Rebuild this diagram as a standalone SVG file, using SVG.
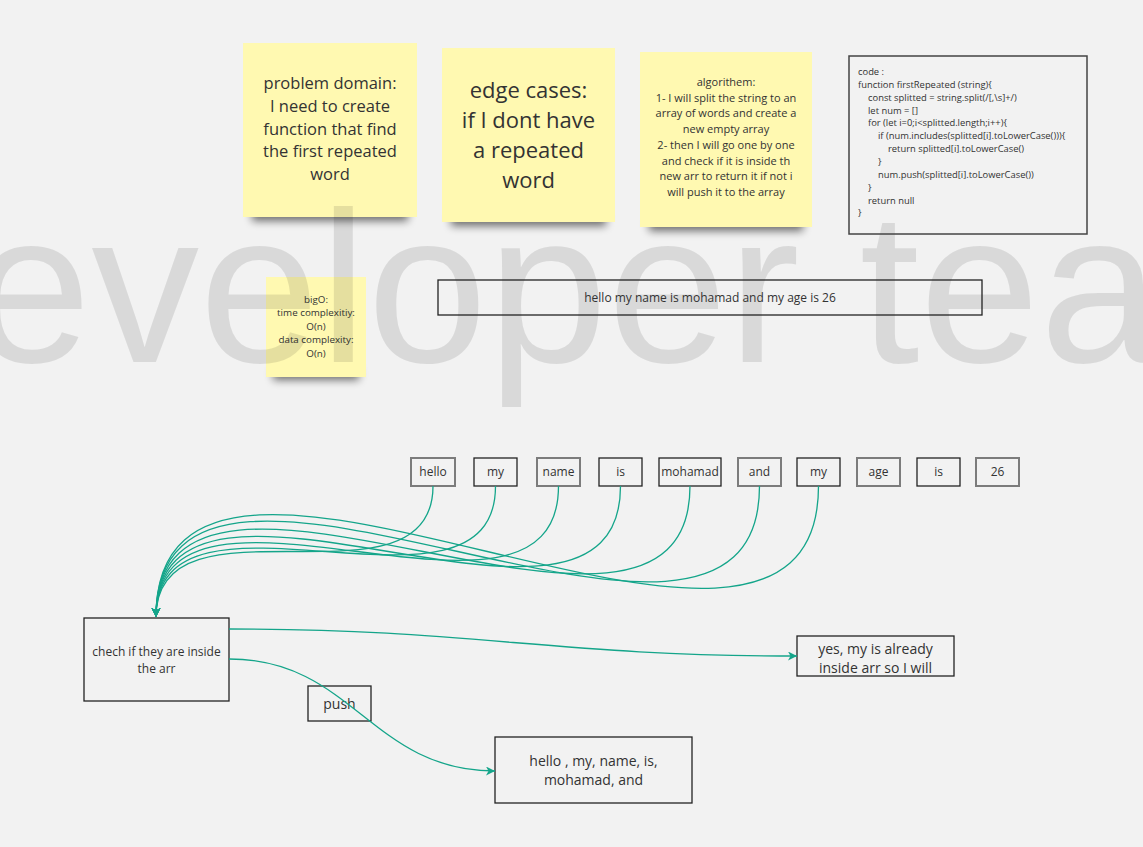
<svg xmlns="http://www.w3.org/2000/svg" width="1143" height="847" viewBox="0 0 1143 847">
<style>
text{font-family:"Open Sans","Noto Sans","Liberation Sans",sans-serif;fill:#333;text-anchor:middle}
.note{fill:#fff9b1}
.shadow{fill:#000;opacity:.55}
.box{fill:none;stroke:#222;stroke-width:1.3}
.gbox{fill:none;stroke:#7c7c7c;stroke-width:2}
.code{text-anchor:start;font-size:9.4px}
.conn{fill:none;stroke:#14a58a;stroke-width:1.3}
.wm{font-family:"Liberation Sans",Arial,sans-serif;font-size:216px;fill:#000;fill-opacity:.1;text-anchor:start}
.w{font-size:12px}
.m{font-size:14px}
</style>
<defs>
<filter id="blur" x="-20%" y="-100%" width="140%" height="300%"><feGaussianBlur stdDeviation="4"/></filter>
<marker id="arr" markerUnits="userSpaceOnUse" markerWidth="10" markerHeight="10" refX="9" refY="4.5" orient="auto"><path d="M0,0 L9,4.5 L0,9 L2.5,4.5 z" fill="#14a58a"/></marker>
</defs>
<rect width="1143" height="847" fill="#f2f2f2"/>

<g id="note-problem">
<rect class="shadow" x="252" y="207" width="156" height="14" filter="url(#blur)"/>
<rect class="note" x="243" y="43" width="174" height="174"/>
<text font-size="16.5"><tspan x="330" y="89">problem domain:</tspan><tspan x="330" y="111.8">I need to create</tspan><tspan x="330" y="134.6">function that find</tspan><tspan x="330" y="157.4">the first repeated</tspan><tspan x="330" y="180.2">word</tspan></text>
</g>
<g id="note-edge">
<rect class="shadow" x="451" y="212" width="155" height="14" filter="url(#blur)"/>
<rect class="note" x="442" y="48" width="173" height="174"/>
<text font-size="22"><tspan x="528.5" y="98">edge cases:</tspan><tspan x="528.5" y="128">if I dont have</tspan><tspan x="528.5" y="158">a repeated</tspan><tspan x="528.5" y="188">word</tspan></text>
</g>
<g id="note-algo">
<rect class="shadow" x="649" y="217" width="154" height="14" filter="url(#blur)"/>
<rect class="note" x="640" y="52" width="172" height="175"/>
<text font-size="11"><tspan x="726" y="86">algorithem:</tspan><tspan x="726" y="101.7">1- I will split the string to an</tspan><tspan x="726" y="117.4">array of words and create a</tspan><tspan x="726" y="133.1">new empty array</tspan><tspan x="726" y="148.8">2- then I will go one by one</tspan><tspan x="726" y="164.5">and check if it is inside th</tspan><tspan x="726" y="180.2">new arr to return it if not i</tspan><tspan x="726" y="195.9">will push it to the array</tspan></text>
</g>
<g id="note-bigo">
<rect class="shadow" x="273" y="368" width="86" height="12" filter="url(#blur)"/>
<rect class="note" x="266" y="277" width="100" height="100"/>
<text font-size="9.8"><tspan x="316" y="302.5">bigO:</tspan><tspan x="316" y="316">time complexitiy:</tspan><tspan x="316" y="329.5">O(n)</tspan><tspan x="316" y="343">data complexity:</tspan><tspan x="316" y="356.5">O(n)</tspan></text>
</g>

<g id="watermark"><text class="wm" x="-29" y="362">eveloper tea</text></g>

<g id="code">
<rect x="849" y="56" width="238" height="178" fill="none" stroke="#444" stroke-width="1.5"/>
<text class="code" x="858" y="75">code :</text>
<text class="code" x="858" y="87.9">function firstRepeated (string){</text>
<text class="code" x="868" y="100.7">const splitted = string.split(/[,\s]+/)</text>
<text class="code" x="868" y="113.6">let num = []</text>
<text class="code" x="868" y="126.4">for (let i=0;i&lt;splitted.length;i++){</text>
<text class="code" x="878" y="139.3">if (num.includes(splitted[i].toLowerCase())){</text>
<text class="code" x="888" y="152.1">return splitted[i].toLowerCase()</text>
<text class="code" x="878" y="165">}</text>
<text class="code" x="878" y="177.8">num.push(splitted[i].toLowerCase())</text>
<text class="code" x="868" y="190.7">}</text>
<text class="code" x="868" y="203.5">return null</text>
<text class="code" x="858" y="216.4">}</text>
</g>

<g id="sentence"><rect class="box" x="438" y="280" width="544" height="35"/><text font-size="12" x="710" y="302">hello my name is mohamad and my age is 26</text></g>

<g id="w-hello"><rect class="gbox" x="411" y="458" width="44" height="28"/><text class="w" x="433" y="476">hello</text></g>
<g id="w-my1"><rect class="box" x="474" y="458" width="43" height="28"/><text class="w" x="495.5" y="476">my</text></g>
<g id="w-name"><rect class="gbox" x="537" y="458" width="43" height="28"/><text class="w" x="558.5" y="476">name</text></g>
<g id="w-is1"><rect class="box" x="599" y="458" width="43" height="28"/><text class="w" x="620.5" y="476">is</text></g>
<g id="w-mohamad"><rect class="box" x="659" y="458" width="62" height="28"/><text class="w" x="690" y="476">mohamad</text></g>
<g id="w-and"><rect class="gbox" x="738" y="458" width="43" height="28"/><text class="w" x="759.5" y="476">and</text></g>
<g id="w-my2"><rect class="box" x="797" y="458" width="43" height="28"/><text class="w" x="818.5" y="476">my</text></g>
<g id="w-age"><rect class="gbox" x="857" y="458" width="43" height="28"/><text class="w" x="878.5" y="476">age</text></g>
<g id="w-is2"><rect class="box" x="917" y="458" width="43" height="28"/><text class="w" x="938.5" y="476">is</text></g>
<g id="w-26"><rect class="gbox" x="976" y="458" width="43" height="28"/><text class="w" x="997.5" y="476">26</text></g>

<g id="check"><rect class="box" x="84" y="618" width="145" height="83" stroke="#333"/><text font-size="12"><tspan x="156.5" y="656">chech if they are inside</tspan><tspan x="156.5" y="673">the arr</tspan></text></g>
<g id="yes"><rect class="box" x="797" y="636" width="157" height="40"/><text class="m"><tspan x="875.5" y="654">yes, my is already</tspan><tspan x="875.5" y="673">inside arr so I will</tspan></text></g>
<g id="push"><rect class="box" x="308" y="686" width="63" height="35" stroke="#444"/><text class="m" x="339.5" y="709">push</text></g>
<g id="result"><rect class="box" x="495" y="737" width="197" height="66"/><text class="m"><tspan x="593.5" y="766">hello , my, name, is,</tspan><tspan x="593.5" y="785">mohamad, and</tspan></text></g>

<g id="connectors">
<path class="conn" marker-end="url(#arr)" d="M433,486 C433,618 156,485 156,617"/>
<path class="conn" marker-end="url(#arr)" d="M495.5,486 C495.5,642 156,461 156,617"/>
<path class="conn" marker-end="url(#arr)" d="M558.5,486 C558.5,668 156,435 156,617"/>
<path class="conn" marker-end="url(#arr)" d="M620.5,486 C620.5,694 156,409 156,617"/>
<path class="conn" marker-end="url(#arr)" d="M690,486 C690,722 156,381 156,617"/>
<path class="conn" marker-end="url(#arr)" d="M759.5,486 C759.5,752 156,351 156,617"/>
<path class="conn" marker-end="url(#arr)" d="M818.5,486 C818.5,776 156,327 156,617"/>
<path class="conn" marker-end="url(#arr)" d="M229,629 C474,629 552,656 797,656"/>
<path class="conn" marker-end="url(#arr)" d="M229,659 C353,659 371,771 495,771"/>
</g>
</svg>
